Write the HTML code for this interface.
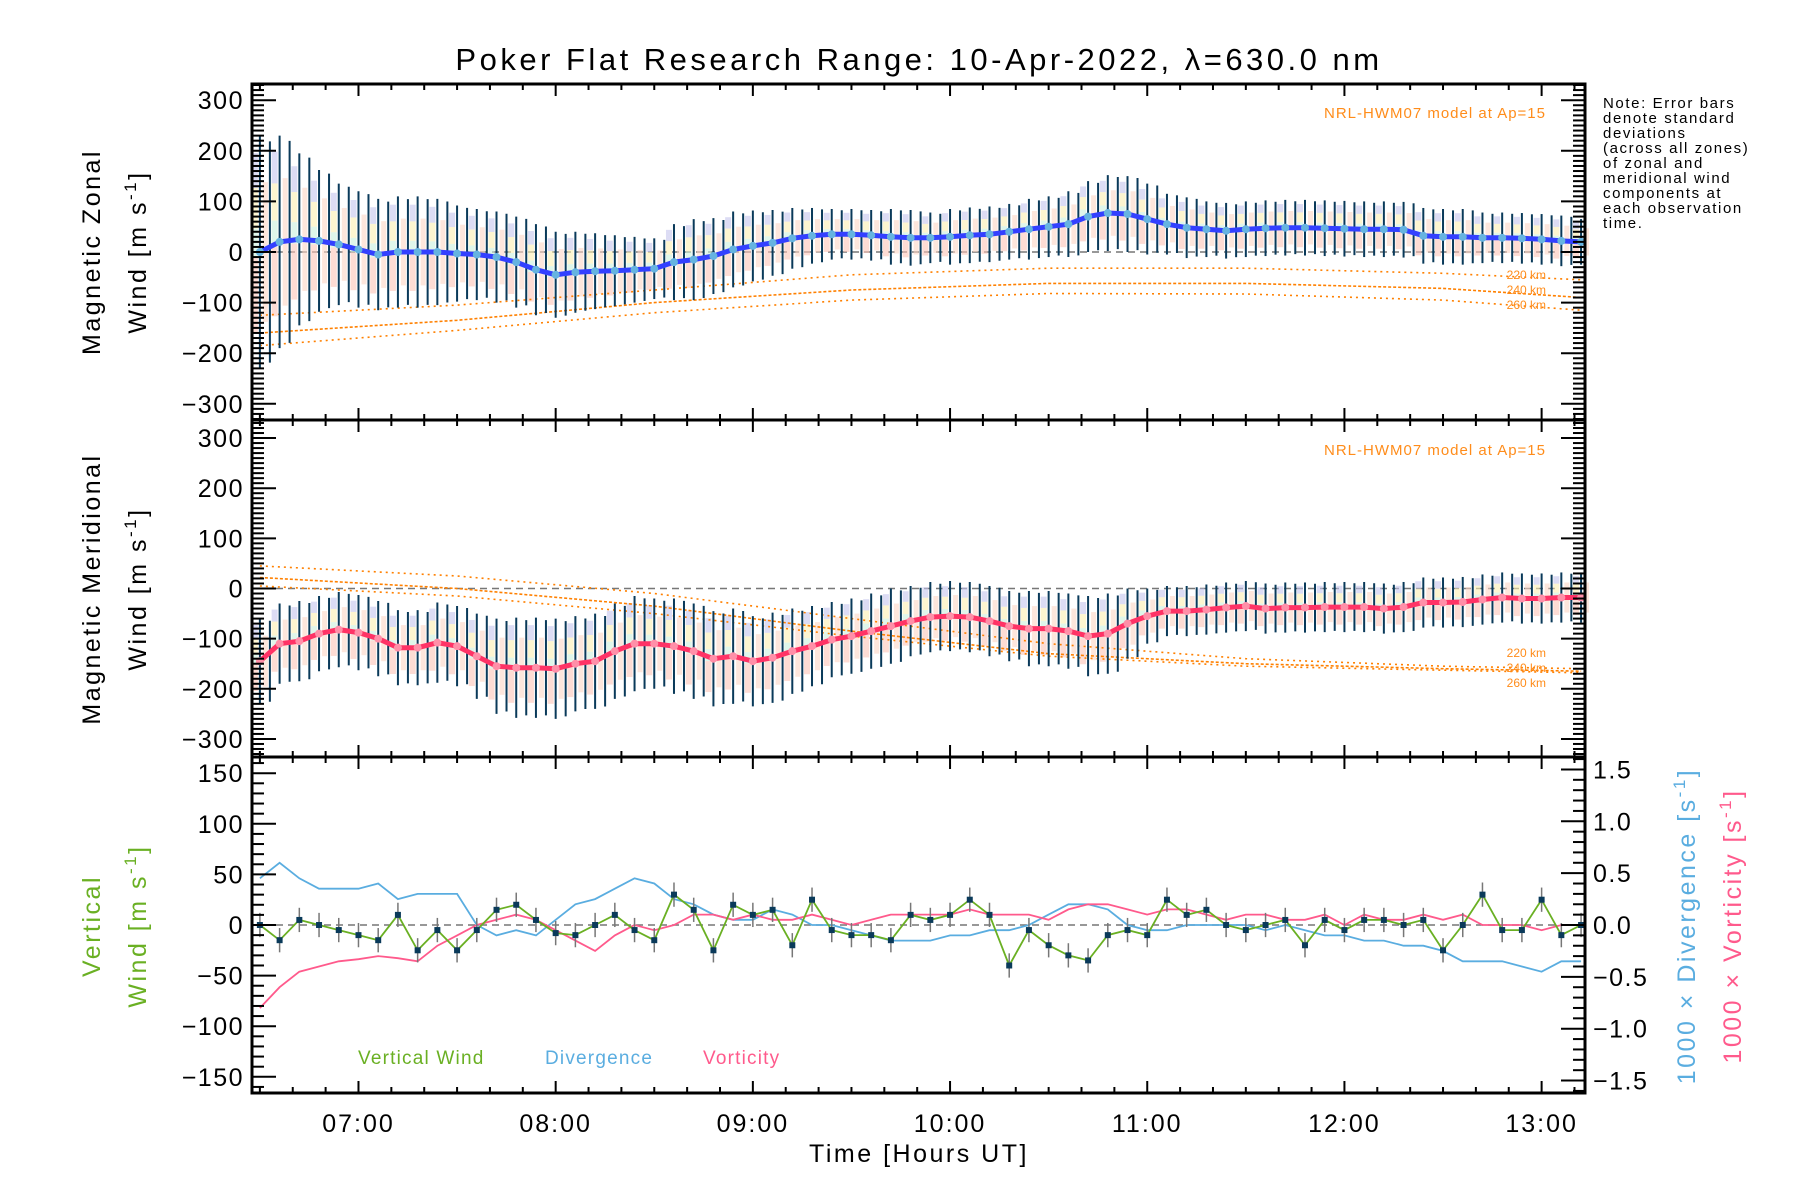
<!DOCTYPE html>
<html><head><meta charset="utf-8">
<style>
html,body{margin:0;padding:0;background:#fff;}
svg{display:block;font-family:"Liberation Sans",sans-serif;}
</style></head>
<body>
<svg id="chart" width="1800" height="1200" viewBox="0 0 1800 1200">
<text x="919" y="70" font-size="31" letter-spacing="3.5" text-anchor="middle">Poker Flat Research Range: 10-Apr-2022, λ=630.0 nm</text>
<g id="layer"></g>
<g letter-spacing="2.5">
<text transform="translate(100,252) rotate(-90)" font-size="25" text-anchor="middle">Magnetic Zonal</text>
<text transform="translate(146,252) rotate(-90)" font-size="25" text-anchor="middle">Wind [m s<tspan dy="-10" font-size="17">-1</tspan><tspan dy="10">]</tspan></text>
<text transform="translate(100,589) rotate(-90)" font-size="25" text-anchor="middle">Magnetic Meridional</text>
<text transform="translate(146,589) rotate(-90)" font-size="25" text-anchor="middle">Wind [m s<tspan dy="-10" font-size="17">-1</tspan><tspan dy="10">]</tspan></text>
<text transform="translate(100,926) rotate(-90)" font-size="25" fill="#6ab023" text-anchor="middle">Vertical</text>
<text transform="translate(146,926) rotate(-90)" font-size="25" fill="#6ab023" text-anchor="middle">Wind [m s<tspan dy="-10" font-size="17">-1</tspan><tspan dy="10">]</tspan></text>
<text transform="translate(1695,926) rotate(-90)" font-size="25" fill="#5aade0" text-anchor="middle">1000 × Divergence [s<tspan dy="-10" font-size="17">-1</tspan><tspan dy="10">]</tspan></text>
<text transform="translate(1741,926) rotate(-90)" font-size="25" fill="#ff5a8c" text-anchor="middle">1000 × Vorticity [s<tspan dy="-10" font-size="17">-1</tspan><tspan dy="10">]</tspan></text>
<text x="919" y="1162" font-size="25" text-anchor="middle">Time [Hours UT]</text>
</g>
<g font-size="15" letter-spacing="1.6">
<text x="1603" y="108">Note: Error bars</text>
<text x="1603" y="123">denote standard</text>
<text x="1603" y="138">deviations</text>
<text x="1603" y="153">(across all zones)</text>
<text x="1603" y="168">of zonal and</text>
<text x="1603" y="183">meridional wind</text>
<text x="1603" y="198">components at</text>
<text x="1603" y="213">each observation</text>
<text x="1603" y="228">time.</text>
</g>
<text x="1546" y="118" font-size="15" letter-spacing="1" fill="#ff8c1a" text-anchor="end">NRL-HWM07 model at Ap=15</text>
<text x="1546" y="455" font-size="15" letter-spacing="1" fill="#ff8c1a" text-anchor="end">NRL-HWM07 model at Ap=15</text>
<g font-size="12" fill="#ff8c1a" text-anchor="end">
<text x="1546" y="279">220 km</text><text x="1546" y="294">240 km</text><text x="1546" y="309">260 km</text>
<text x="1546" y="657">220 km</text><text x="1546" y="672">240 km</text><text x="1546" y="687">260 km</text>
</g>
<text x="358" y="1064" font-size="19" letter-spacing="1.2" fill="#6ab023">Vertical Wind</text>
<text x="545" y="1064" font-size="19" letter-spacing="1.2" fill="#5aade0">Divergence</text>
<text x="703" y="1064" font-size="19" letter-spacing="1.2" fill="#ff5a8c">Vorticity</text>
</svg>
<script>
const times = [6.5,6.6,6.7,6.8,6.9,7.0,7.1,7.2,7.3,7.4,7.5,7.6,7.7,7.8,7.9,8.0,8.1,8.2,8.3,8.4,8.5,8.6,8.7,8.8,8.9,9.0,9.1,9.2,9.3,9.4,9.5,9.6,9.7,9.8,9.9,10.0,10.1,10.2,10.3,10.4,10.5,10.6,10.7,10.8,10.9,11.0,11.1,11.2,11.3,11.4,11.5,11.6,11.7,11.8,11.9,12.0,12.1,12.2,12.3,12.4,12.5,12.6,12.7,12.8,12.9,13.0,13.1,13.2];
const zonalMean = [0,20,25,22,15,5,-5,0,0,0,-3,-5,-10,-20,-35,-45,-40,-38,-37,-35,-33,-20,-15,-8,5,12,18,27,32,35,35,33,30,28,28,30,33,35,40,45,50,55,70,77,75,65,55,48,45,42,45,47,48,48,47,46,45,45,44,32,30,30,28,28,27,25,22,20];
const zonalSigma = [230,210,170,140,120,115,110,110,110,105,95,90,90,90,90,85,80,75,70,65,60,75,80,75,75,70,65,60,55,50,50,50,55,55,50,55,55,55,55,60,60,65,70,75,75,70,60,60,55,55,55,55,55,55,55,55,55,55,55,55,55,55,50,50,50,50,50,45];
const merMean = [-145,-110,-105,-90,-82,-88,-100,-118,-118,-108,-115,-135,-155,-158,-158,-160,-150,-145,-125,-110,-110,-115,-125,-140,-135,-145,-138,-125,-115,-102,-95,-85,-75,-65,-57,-55,-57,-65,-75,-80,-80,-85,-95,-90,-70,-55,-45,-45,-42,-38,-35,-40,-38,-38,-37,-37,-37,-40,-37,-28,-28,-27,-22,-18,-20,-20,-18,-18];
const merSigma = [85,80,80,75,75,75,75,75,75,80,80,85,95,100,100,100,95,95,95,95,90,95,95,95,95,90,90,85,80,75,75,75,75,70,70,70,70,70,70,75,75,75,80,80,70,55,50,50,50,50,50,50,50,50,50,50,50,50,50,50,50,50,50,50,50,50,50,50];
const vertWind = [0,-15,5,0,-5,-10,-15,10,-25,-5,-25,-5,15,20,5,-8,-10,0,10,-5,-15,30,15,-25,20,10,15,-20,25,-5,-10,-10,-15,10,5,10,25,10,-40,-5,-20,-30,-35,-10,-5,-10,25,10,15,0,-5,0,5,-20,5,-5,5,5,0,5,-25,0,30,-5,-5,25,-10,0];
const divergence = [0.45,0.6,0.45,0.35,0.35,0.35,0.4,0.25,0.3,0.3,0.3,0.0,-0.1,-0.05,-0.1,0.05,0.2,0.25,0.35,0.45,0.4,0.25,0.2,0.1,0.05,0.05,0.15,0.1,0.0,0.0,-0.05,-0.1,-0.15,-0.15,-0.15,-0.1,-0.1,-0.05,-0.05,0.0,0.1,0.2,0.2,0.15,0.0,-0.05,-0.05,0.0,0.0,0.0,0.0,-0.05,0.0,-0.05,-0.1,-0.1,-0.15,-0.15,-0.2,-0.2,-0.25,-0.35,-0.35,-0.35,-0.4,-0.45,-0.35,-0.35];
const vorticity = [-0.8,-0.6,-0.45,-0.4,-0.35,-0.33,-0.3,-0.32,-0.35,-0.2,-0.1,0.0,0.05,0.1,0.05,-0.05,-0.15,-0.25,-0.1,0.0,-0.05,0.0,0.1,0.1,0.05,0.1,0.05,0.05,0.1,0.05,0.0,0.05,0.1,0.1,0.1,0.1,0.15,0.1,0.1,0.1,0.05,0.15,0.2,0.2,0.15,0.1,0.15,0.15,0.1,0.05,0.1,0.1,0.05,0.05,0.1,0.0,0.1,0.05,0.05,0.1,0.05,0.1,0.0,0.0,0.0,-0.05,0.0,0.0];
const modelTimes = [6.5,7.5,8.5,9.5,10.5,11.5,12.5,13.2];
const zonalModel220 = [-125,-105,-75,-45,-32,-32,-42,-55];
const zonalModel240 = [-160,-135,-100,-75,-62,-62,-72,-90];
const zonalModel260 = [-185,-155,-120,-95,-82,-83,-95,-115];
const merModel220 = [45,25,-10,-60,-110,-140,-155,-160];
const merModel240 = [22,0,-35,-85,-130,-150,-160,-165];
const merModel260 = [5,-15,-50,-95,-135,-155,-163,-168];
const xTickLabels = ["07:00","08:00","09:00","10:00","11:00","12:00","13:00"];
const windTickLabels = ["-300","-200","-100","0","100","200","300"];
const vertTickLabels = ["-150","-100","-50","0","50","100","150"];
const rightTickLabels = ["-1.5","-1.0","-0.5","0.0","0.5","1.0","1.5"];

const NS="http://www.w3.org/2000/svg";
const layer=document.getElementById('layer');
const L=252,R=1585,X0=6.46,X1=13.22;
function xs(t){return L+(t-X0)/(X1-X0)*(R-L);}
function mk(tag,attrs,parent){const e=document.createElementNS(NS,tag);for(const k in attrs)e.setAttribute(k,attrs[k]);(parent||layer).appendChild(e);return e;}
const panels=[{top:84,bot:420,min:-332,max:332},{top:420,bot:757,min:-336,max:336},{top:757,bot:1093,min:-166,max:166,rmin:-1.62,rmax:1.62}];
function ys(p,v){return p.bot-(v-p.min)/(p.max-p.min)*(p.bot-p.top);}
function yr(p,v){return p.bot-(v-p.rmin)/(p.rmax-p.rmin)*(p.bot-p.top);}
function poly(pts,attrs,name){const e=mk('polyline',Object.assign({points:pts.map(q=>q[0].toFixed(1)+','+q[1].toFixed(1)).join(' '),fill:'none'},attrs));


return e;}

function windPanel(p,mean,sigma,models,lineColor,pname){
  const g=mk('g',{});
  
  
  const z=mk('line',{x1:L,x2:R,y1:ys(p,0),y2:ys(p,0),stroke:'#777','stroke-width':1.5,'stroke-dasharray':'7,5'},g);
  
  
  times.forEach((t,i)=>{
    const x=xs(t),m=mean[i],s=sigma[i];
    const segs=[[m+s*0.85,m+s*0.55,'#c4c4ec'],[m+s*0.55,m+s*0.2,'#fbeeb0'],[m+s*0.2,m-s*0.05,'#c9f0dc'],[m-s*0.05,m-s*0.7,'#fcc4b8']];
    segs.forEach(sg=>{const r=mk('rect',{x:x-8,y:ys(p,sg[0]),width:6,height:Math.max(0,ys(p,sg[1])-ys(p,sg[0])),fill:sg[2],opacity:0.6},g);
      
      });
    const r2=mk('rect',{x:x+3,y:ys(p,m+s*0.6),width:5,height:ys(p,m-s*0.6)-ys(p,m+s*0.6),fill:'#fbd6c4',opacity:0.6},g);
    
    
  });
  models.forEach((md,k)=>{const e=poly(modelTimes.map((t,i)=>[xs(t),ys(p,md[i])]),{stroke:'#ff8000','stroke-width':1.6,'stroke-dasharray':k==1?'3,2':'2,4'},pname+'-model-'+(220+20*k)+'km');g.appendChild(e);});
  times.forEach((t,i)=>{const x=xs(t);
    const b=mk('line',{x1:x,x2:x,y1:ys(p,mean[i]+sigma[i]),y2:ys(p,mean[i]-sigma[i]),stroke:'#0a3a5a','stroke-width':2},g);
    
    
    const x2=x+10,s2=sigma[i]*0.95;
    if(x2<R-2){
    const b2=mk('line',{x1:x2,x2:x2,y1:ys(p,mean[i]+s2),y2:ys(p,mean[i]-s2),stroke:'#0a3a5a','stroke-width':2},g);
    
    }
  });
  const ln=poly(times.map((t,i)=>[xs(t),ys(p,mean[i])]),{stroke:lineColor,'stroke-width':5},pname+'-mean-line');g.appendChild(ln);
  times.forEach((t,i)=>{const c=mk('circle',{cx:xs(t),cy:ys(p,mean[i]),r:4,fill:lineColor=='#3340ff'?'#66b3e0':'#ff8fa8'},g);
    
    });
}
windPanel(panels[0],zonalMean,zonalSigma,[zonalModel220,zonalModel240,zonalModel260],'#3340ff','zonal');
windPanel(panels[1],merMean,merSigma,[merModel220,merModel240,merModel260],'#ff3366','meridional');

(function(){const p=panels[2];
  const z=mk('line',{x1:L,x2:R,y1:ys(p,0),y2:ys(p,0),stroke:'#777','stroke-width':1.5,'stroke-dasharray':'7,5'});
  
  
  poly(times.map((t,i)=>[xs(t),yr(p,divergence[i])]),{stroke:'#5aade0','stroke-width':1.8},'divergence-line');
  poly(times.map((t,i)=>[xs(t),yr(p,vorticity[i])]),{stroke:'#ff5a8c','stroke-width':1.8},'vorticity-line');
  times.forEach((t,i)=>{const x=xs(t);
    const b=mk('line',{x1:x,x2:x,y1:ys(p,vertWind[i]+12),y2:ys(p,vertWind[i]-12),stroke:'#777','stroke-width':1.5});
    
    });
  poly(times.map((t,i)=>[xs(t),ys(p,vertWind[i])]),{stroke:'#6ab023','stroke-width':1.8},'vertical-wind-line');
  times.forEach((t,i)=>{const r=mk('rect',{x:xs(t)-3,y:ys(p,vertWind[i])-3,width:6,height:6,fill:'#0a3a5a'});
    
    });
})();

panels.forEach((p,pi)=>{
  const f=mk('rect',{x:L,y:p.top,width:R-L,height:p.bot-p.top,fill:'none',stroke:'#000','stroke-width':3});
  
  
  const g=mk('g',{stroke:'#000','stroke-width':2});
  
  
  for(let m=Math.ceil(X0*6);m<=X1*6;m++){const x=xs(m/6),len=(m%6==0)?12:6;
    mk('line',{x1:x,x2:x,y1:p.bot,y2:p.bot-len},g);mk('line',{x1:x,x2:x,y1:p.top,y2:p.top+len},g);}
  const step=pi<2?100:50,minor=10;
  for(let v=Math.ceil(p.min/minor)*minor;v<=p.max;v+=minor){const y=ys(p,v),maj=(v%step==0),len=maj?24:12;
    mk('line',{x1:L,x2:L+len,y1:y,y2:y},g);
    if(pi<2)mk('line',{x1:R,x2:R-len,y1:y,y2:y},g);}
  const labels=pi<2?windTickLabels:vertTickLabels;
  labels.forEach(s=>{const t=mk('text',{x:L-8,y:ys(p,parseFloat(s))+9,'font-size':25,'letter-spacing':1.5,'text-anchor':'end'});t.textContent=s.replace('-','\u2212');
    
    });
  if(pi==2){
    for(let k=Math.ceil(p.rmin*10);k<=p.rmax*10;k++){const y=yr(p,k/10),len=(k%5==0)?24:12;mk('line',{x1:R,x2:R-len,y1:y,y2:y},g);}
    rightTickLabels.forEach(s=>{const t=mk('text',{x:R+8,y:yr(p,parseFloat(s))+9,'font-size':25,'letter-spacing':1.5});t.textContent=s.replace('-','\u2212');
      
      });
  }
});
xTickLabels.forEach((s,i)=>{const t=mk('text',{x:xs(7+i),y:1132,'font-size':25,'letter-spacing':2,'text-anchor':'middle'});t.textContent=s;
  
  });
</script>
</body></html>
